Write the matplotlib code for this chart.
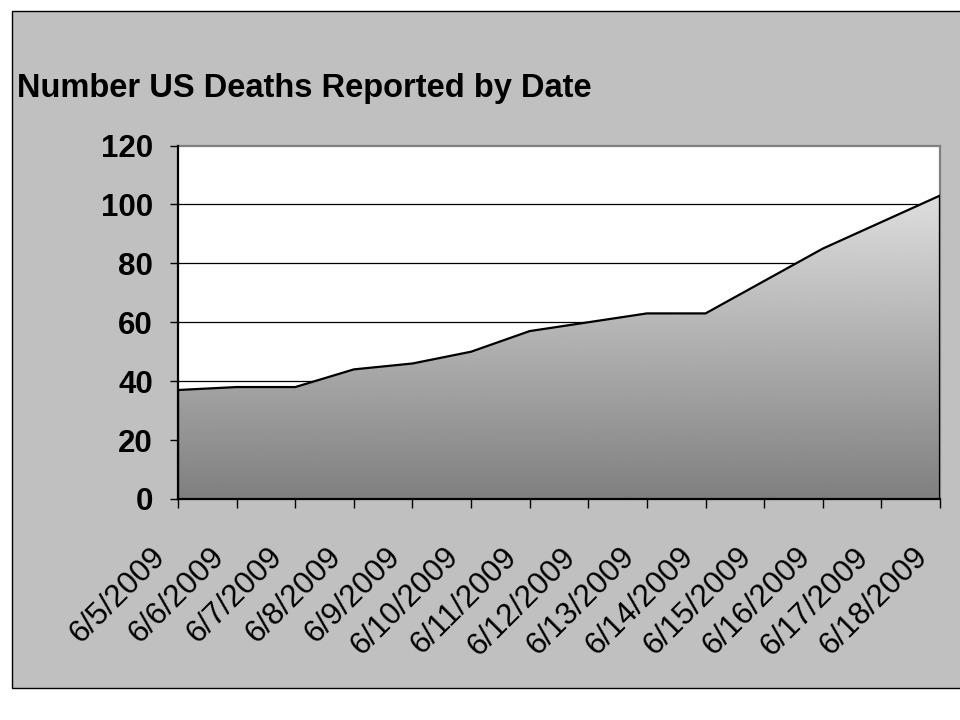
import matplotlib
matplotlib.use("Agg")
import matplotlib.pyplot as plt
import matplotlib.patches as patches
from matplotlib.transforms import ScaledTranslation
import numpy as np

# data
dates = ['6/5/2009', '6/6/2009', '6/7/2009', '6/8/2009', '6/9/2009', '6/10/2009',
         '6/11/2009', '6/12/2009', '6/13/2009', '6/14/2009', '6/15/2009',
         '6/16/2009', '6/17/2009', '6/18/2009']
deaths = [37, 38, 38, 44, 46, 50, 57, 60, 63, 63, 74, 85, 94, 103]
y_ticks = [0, 20, 40, 60, 80, 100, 120]

plt.rcParams['font.family'] = ['Liberation Sans', 'DejaVu Sans']

fig = plt.figure(figsize=(9.6, 7.2), dpi=100, facecolor='white')

# grey chart area with black border
bg = patches.Rectangle((11.5/960, 1-688/720), 1.0, (688-11)/720,
                       transform=fig.transFigure, facecolor='#C0C0C0',
                       edgecolor='black', linewidth=1, zorder=-10)
fig.patches.append(bg)

ax = fig.add_axes([178/960, 1-499/720, (940-178)/960, (499-145.5)/720])
ax.set_zorder(1)
ax.set_facecolor('white')

x = np.arange(len(deaths))
ymax = max(deaths)

# gradient fill clipped to the area
grad = np.linspace(0.5, 0.87, 256).reshape(-1, 1)
img = ax.imshow(grad, extent=[x[0], x[-1], 0, ymax], origin='lower',
                cmap='gray', vmin=0, vmax=1, aspect='auto', zorder=2)
clip = patches.Polygon(np.column_stack([np.r_[x[0], x, x[-1]],
                                        np.r_[0, deaths, 0]]),
                       closed=True, transform=ax.transData)
img.set_clip_path(clip)
ax.plot(np.r_[x[0], x, x[-1]], np.r_[0, deaths, 0], color='black',
        linewidth=1.6, zorder=4, solid_joinstyle='miter')

ax.set_xlim(x[0], x[-1])
ax.set_ylim(0, 120)
ax.set_yticks(y_ticks)
ax.set_yticklabels([str(v) for v in y_ticks], fontsize=22.5, fontweight='bold')
for v in y_ticks[1:-1]:
    ax.axhline(v, color='black', linewidth=0.9, zorder=1)

ax.set_xticks(x)
ax.set_xticklabels(dates, fontsize=22.5, rotation=45, ha='right',
                   va='center', rotation_mode='anchor')
ax.tick_params(axis='y', direction='out', length=6, width=1, pad=12)
ax.tick_params(axis='x', direction='out', length=6.5, width=1, pad=32)
offset = ScaledTranslation(-0.17, 0, fig.dpi_scale_trans)
for lab in ax.get_xticklabels():
    lab.set_transform(lab.get_transform() + offset)

for side in ['left', 'bottom']:
    ax.spines[side].set_color('black')
    ax.spines[side].set_linewidth(1.6)
for side in ['top', 'right']:
    ax.spines[side].set_color('#808080')
    ax.spines[side].set_linewidth(1.6)
ax.spines['left'].set_zorder(5)
ax.spines['bottom'].set_zorder(5)

fig.text(17/960, 1-97/720, 'Number US Deaths Reported by Date',
         fontsize=23.5, fontweight='bold', ha='left', va='baseline')

fig.savefig('out.png', dpi=100, facecolor='white')
